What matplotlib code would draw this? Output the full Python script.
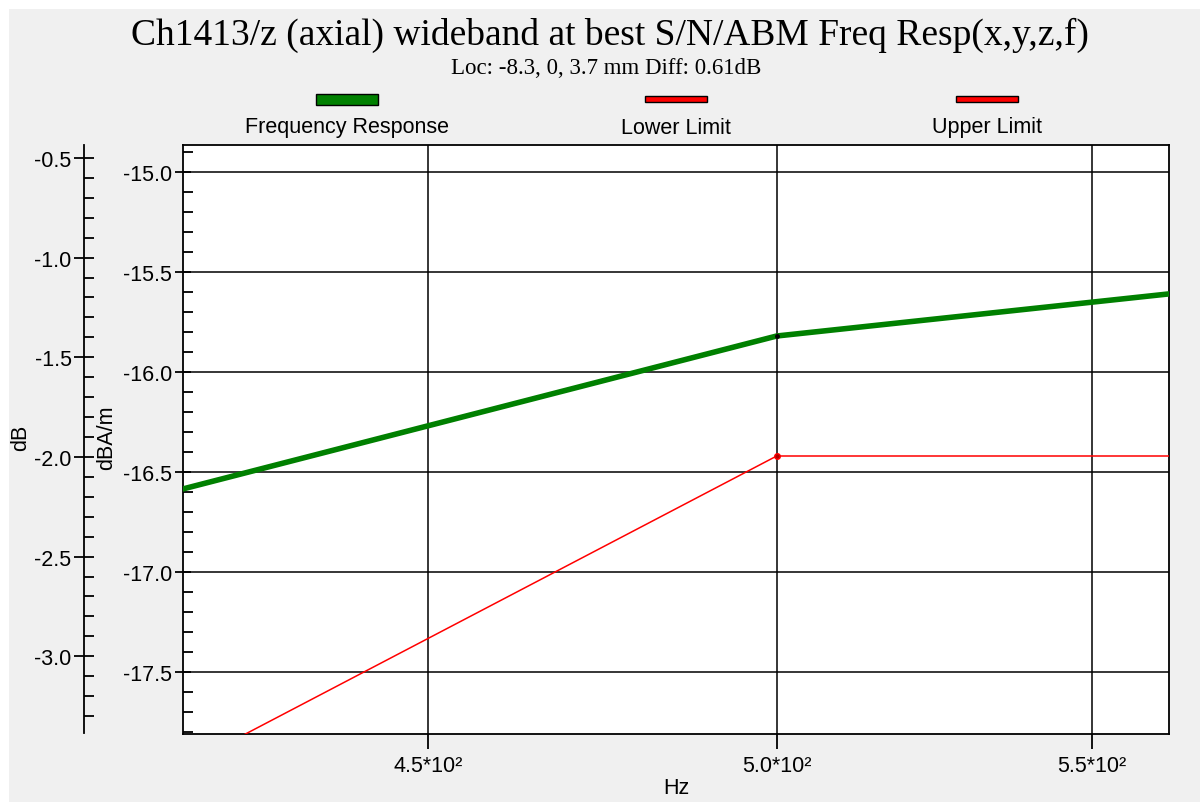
import matplotlib.pyplot as plt
import numpy as np
from matplotlib.patches import Rectangle
from matplotlib.ticker import FixedLocator, MultipleLocator, NullLocator

plt.rcParams['font.family'] = ['Liberation Sans', 'DejaVu Sans']

# Data (1/3 octave band points)
freqs = [400, 500, 630]
freq_resp = [-16.77, -15.82, -15.41]
lower_limit = [-18.35, -16.42, -16.42]
upper_limit = [-14.40, -14.40, -14.40]

series_names = ['Frequency Response', 'Lower Limit', 'Upper Limit']
series_colors = ['#008000', '#ff0000', '#ff0000']

x_ticks = [450, 500, 550]
x_tick_labels = ['4.5*10²', '5.0*10²', '5.5*10²']

title = 'Ch1413/z (axial) wideband at best S/N/ABM Freq Resp(x,y,z,f)'
subtitle = 'Loc: -8.3, 0, 3.7 mm Diff: 0.61dB'

W, H = 1200, 803
BG = '#f0f0f0'
FS = 15.5

fig = plt.figure(figsize=(W / 100, H / 100), dpi=100, facecolor=BG)

# white strips at top and left edge
fig.add_artist(Rectangle((0, 1 - 10 / H), 1, 10 / H, transform=fig.transFigure,
                         facecolor='white', edgecolor='none', zorder=0))
fig.add_artist(Rectangle((0, 0), 9 / W, 1, transform=fig.transFigure,
                         facecolor='white', edgecolor='none', zorder=0))


def fig_box(x0, y0, x1, y1):
    # pixel box (top-left origin) -> figure coords
    return [x0 / W, 1 - y1 / H, (x1 - x0) / W, (y1 - y0) / H]


# main axes
ax = fig.add_axes(fig_box(183, 146, 1169, 735))
ax.set_facecolor('white')
ax.set_xscale('log')
ax.set_xlim(417.8, 563.0)
ax.set_ylim(-17.81, -14.865)

ax.plot(freqs, freq_resp, color=series_colors[0], lw=4.0, zorder=3,
        solid_capstyle='butt')
ax.plot(freqs, freq_resp, 'o', color='black', ms=2.5, zorder=4)
ax.plot(freqs, lower_limit, color=series_colors[1], lw=1.1, zorder=3)
ax.plot(freqs, lower_limit, 'o', mfc='#b00000', mec='#ff0000', ms=4, zorder=4)
ax.plot(freqs, upper_limit, color=series_colors[2], lw=1.1, zorder=3)

ax.xaxis.set_major_locator(FixedLocator(x_ticks))
ax.xaxis.set_minor_locator(NullLocator())
ax.set_xticklabels(x_tick_labels)
ax.yaxis.set_major_locator(MultipleLocator(0.5))
ax.yaxis.set_minor_locator(MultipleLocator(0.1))
ax.yaxis.set_major_formatter(plt.FormatStrFormatter('%.1f'))

ax.grid(True, which='major', color='black', lw=1.1)
ax.set_axisbelow(True)
for s in ax.spines.values():
    s.set_linewidth(1.3)

ax.tick_params(axis='y', which='major', direction='inout', length=12,
               width=1.3, labelsize=FS, pad=2)
ax.tick_params(axis='y', which='minor', direction='in', length=7, width=1.3)
ax.tick_params(axis='x', which='major', direction='out', length=11,
               width=1.3, labelsize=FS, pad=4)

ax.set_xlabel('Hz', fontsize=FS, labelpad=1)
fig.text(107 / W, 1 - 438 / H, 'dBA/m', rotation=90, fontsize=FS,
         ha='center', va='center')

# secondary dB axis on the far left
ax2 = fig.add_axes(fig_box(84, 146, 85, 734))
ax2.patch.set_visible(False)
for k in ['top', 'right', 'bottom']:
    ax2.spines[k].set_visible(False)
ax2.spines['left'].set_linewidth(1.3)
ax2.set_ylim(-3.385, -0.435)
ax2.set_xticks([])
ax2.yaxis.set_major_locator(MultipleLocator(0.5))
ax2.yaxis.set_minor_locator(MultipleLocator(0.1))
ax2.yaxis.set_major_formatter(plt.FormatStrFormatter('%.1f'))
ax2.tick_params(axis='y', which='major', direction='inout', length=14,
                width=1.3, labelsize=FS, pad=2)
ax2.tick_params(axis='y', which='minor', direction='in', length=7, width=1.3)
fig.text(21 / W, 1 - 438 / H, 'dB', rotation=90, fontsize=FS,
         ha='center', va='center')

# titles
fig.text(610 / W, 1 - 35 / H, title, fontsize=27, ha='center', va='center',
         family='Liberation Serif')
fig.text(606 / W, 1 - 68 / H, subtitle, fontsize=16.5, ha='center', va='center',
         family='Liberation Serif')

# legend: swatch above label
leg_x = [347, 676, 987]
sw_h = [11, 6, 6]
for name, col, cx, h in zip(series_names, series_colors, leg_x, sw_h):
    fig.add_artist(Rectangle(((cx - 31) / W, 1 - (100 + h / 2) / H), 62 / W, h / H,
                             transform=fig.transFigure, facecolor=col,
                             edgecolor='black', lw=1.0))
    fig.text(cx / W, 1 - 128 / H, name, fontsize=FS, ha='center', va='center')

fig.savefig('out.png', dpi=100, facecolor=BG)
